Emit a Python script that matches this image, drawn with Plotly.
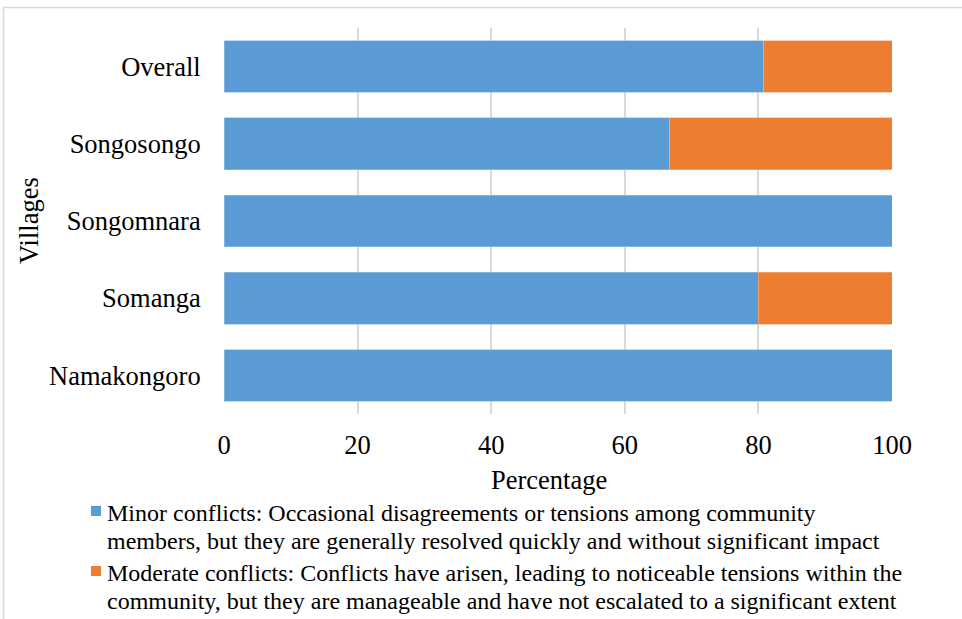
import plotly.graph_objects as go

# Villages listed bottom-to-top as they appear on the category axis
villages = ["Namakongoro", "Somanga", "Songomnara", "Songosongo", "Overall"]
minor_pct = [100, 80, 100, 66.7, 80.8]
moderate_pct = [0, 20, 0, 33.3, 19.2]
x_ticks = [0, 20, 40, 60, 80, 100]

series_names = ["Minor conflicts", "Moderate conflicts"]
series_colors = ["#5B9BD5", "#ED7D31"]
legend_lines = [
    ["Minor conflicts: Occasional disagreements or tensions among community",
     "members, but they are generally resolved quickly and without significant impact"],
    ["Moderate conflicts: Conflicts have arisen, leading to noticeable tensions within the",
     "community, but they are manageable and have not escalated to a significant extent"],
]

FONT = "Liberation Serif, Times New Roman, serif"
W, H = 962, 619
L, R, T, B = 224, 70, 28, 205

fig = go.Figure()
for name, vals, col, edge in zip(series_names, [minor_pct, moderate_pct], series_colors,
                                 ["#9DC3E6", "#F4B183"]):
    fig.add_trace(go.Bar(
        y=villages, x=vals, orientation="h", name=name, showlegend=False,
        marker=dict(color=col, line=dict(color=edge, width=0.6)),
    ))

pw = W - L - R
ph = H - T - B


def px_x(p):
    return (p - L) / pw


def px_y(p):
    return (H - B - p) / ph


annotations = [
    dict(text="Percentage", x=px_x(549), y=px_y(480), xref="paper", yref="paper",
         showarrow=False, font=dict(family=FONT, size=26.5), xanchor="center", yanchor="middle"),
    dict(text="Villages", x=px_x(29), y=px_y(221), xref="paper", yref="paper",
         showarrow=False, textangle=-90, font=dict(family=FONT, size=26.5),
         xanchor="center", yanchor="middle"),
]
shapes = [
    dict(type="rect", xref="paper", yref="paper",
         x0=px_x(3.5), x1=px_x(975), y0=px_y(640), y1=px_y(7.5),
         line=dict(color="#D9D9D9", width=1.5), fillcolor="rgba(0,0,0,0)", layer="below"),
]

# Legend: a colour swatch followed by two text lines per series
item_centers = [513, 573]
line_step = 28
for col, lines, yc in zip(series_colors, legend_lines, item_centers):
    shapes.append(dict(type="rect", xref="paper", yref="paper",
                       x0=px_x(91), x1=px_x(101), y0=px_y(yc + 3), y1=px_y(yc - 7),
                       line=dict(width=0), fillcolor=col))
    for i, txt in enumerate(lines):
        annotations.append(dict(
            text=txt, x=px_x(105), y=px_y(yc + i * line_step), xref="paper", yref="paper",
            showarrow=False, xanchor="left", yanchor="middle",
            font=dict(family=FONT, size=24, color="black"),
        ))

fig.update_layout(
    width=W, height=H,
    margin=dict(l=L, r=R, t=T, b=B, autoexpand=False),
    barmode="stack",
    bargap=0.33,
    plot_bgcolor="white",
    paper_bgcolor="white",
    font=dict(family=FONT, size=26.5, color="black"),
    showlegend=False,
    xaxis=dict(
        range=[0, 100], tickvals=x_ticks, ticktext=[str(v) for v in x_ticks],
        showgrid=True, gridcolor="#D9D9D9", gridwidth=2,
        zeroline=False, showline=False,
        ticks="outside", ticklen=7, tickcolor="rgba(0,0,0,0)",
        tickfont=dict(family=FONT, size=26.5),
        fixedrange=True,
    ),
    yaxis=dict(
        showgrid=False, zeroline=False, showline=False,
        ticks="outside", ticklen=17, tickcolor="rgba(0,0,0,0)",
        tickfont=dict(family=FONT, size=26.5),
        fixedrange=True,
    ),
    annotations=annotations,
    shapes=shapes,
)

fig.write_html("out.html")
